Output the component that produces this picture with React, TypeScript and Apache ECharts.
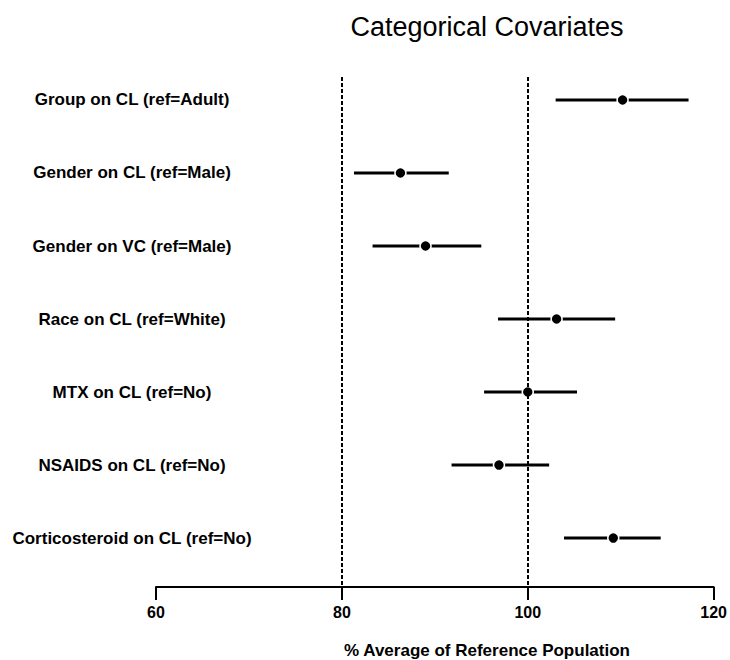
import React, { useEffect, useRef } from "react";
import * as echarts from "echarts";

const chartTitle = "Categorical Covariates";
const xAxisTitle = "% Average of Reference Population";
const covariates = [
  "Group on CL (ref=Adult)",
  "Gender on CL (ref=Male)",
  "Gender on VC (ref=Male)",
  "Race on CL (ref=White)",
  "MTX on CL (ref=No)",
  "NSAIDS on CL (ref=No)",
  "Corticosteroid on CL (ref=No)",
];
const estimates = [110.2, 86.3, 89.0, 103.1, 100.0, 96.9, 109.2];
const lower = [103.0, 81.3, 83.3, 96.8, 95.3, 91.8, 103.9];
const upper = [117.3, 91.5, 95.0, 109.4, 105.3, 102.3, 114.3];
const xTicks = [60, 80, 100, 120];
const refLines = [80, 100];

const FONT = "Liberation Sans, Arial, sans-serif";

export default function App() {
  const ref = useRef<HTMLDivElement>(null);
  useEffect(() => {
    if (!ref.current) return;
    const chart = echarts.init(ref.current, null, { renderer: "svg" });
    const idx = covariates.map((_, i) => i);
    const option: any = {
      animation: false,
      backgroundColor: "#ffffff",
      title: [
        {
          text: chartTitle,
          left: 482,
          top: 8,
          textAlign: "center",
          textStyle: { fontFamily: FONT, fontSize: 27, fontWeight: "normal", color: "#000" },
        },
        {
          text: xAxisTitle,
          left: 482,
          top: 637,
          textAlign: "center",
          textStyle: { fontFamily: FONT, fontSize: 17, fontWeight: "bold", color: "#000" },
        },
      ],
      grid: { left: 156, right: 16, top: 77, bottom: 73, containLabel: false },
      xAxis: {
        type: "value",
        min: 60,
        max: 120,
        interval: 20,
        axisLine: { show: true, onZero: false, lineStyle: { color: "#000", width: 2 } },
        axisTick: { show: true, length: 13, lineStyle: { color: "#000", width: 2 }, customValues: xTicks },
        axisLabel: {
          customValues: xTicks,
          margin: 17,
          fontFamily: FONT,
          fontSize: 16,
          fontWeight: "bold",
          color: "#000",
        },
        splitLine: { show: false },
      },
      yAxis: {
        type: "value",
        inverse: true,
        min: -0.315,
        max: 6.671,
        axisLine: { show: false, onZero: false },
        axisTick: { show: false },
        splitLine: { show: false },
        axisLabel: {
          customValues: idx,
          formatter: (v: number) => covariates[Math.round(v)] ?? "",
          align: "center",
          margin: 24,
          fontFamily: FONT,
          fontSize: 17,
          fontWeight: "bold",
          color: "#000",
        },
      },
      series: [
        {
          type: "custom",
          data: idx.map((i) => [lower[i], upper[i], i]),
          renderItem: (params: any, api: any) => {
            const p1 = api.coord([api.value(0), api.value(2)]);
            const p2 = api.coord([api.value(1), api.value(2)]);
            return {
              type: "line",
              shape: { x1: p1[0], y1: p1[1], x2: p2[0], y2: p2[1] },
              style: { stroke: "#000", lineWidth: 3 },
            };
          },
          markLine: {
            silent: true,
            symbol: "none",
            label: { show: false },
            lineStyle: { color: "#000", width: 2, type: [4, 2] },
            data: refLines.map((v) => ({ xAxis: v })),
          },
          z: 2,
        },
        {
          type: "scatter",
          data: idx.map((i) => [estimates[i], i]),
          symbol: "circle",
          symbolSize: 11,
          itemStyle: { color: "#000", borderColor: "#fff", borderWidth: 1.5, opacity: 1 },
          z: 3,
        },
      ],
    };
    chart.setOption(option);
    return () => chart.dispose();
  }, []);
  return (
    <div
      ref={ref}
      style={{ position: "fixed", left: 0, top: 0, width: 730, height: 660, background: "#fff" }}
    />
  );
}
